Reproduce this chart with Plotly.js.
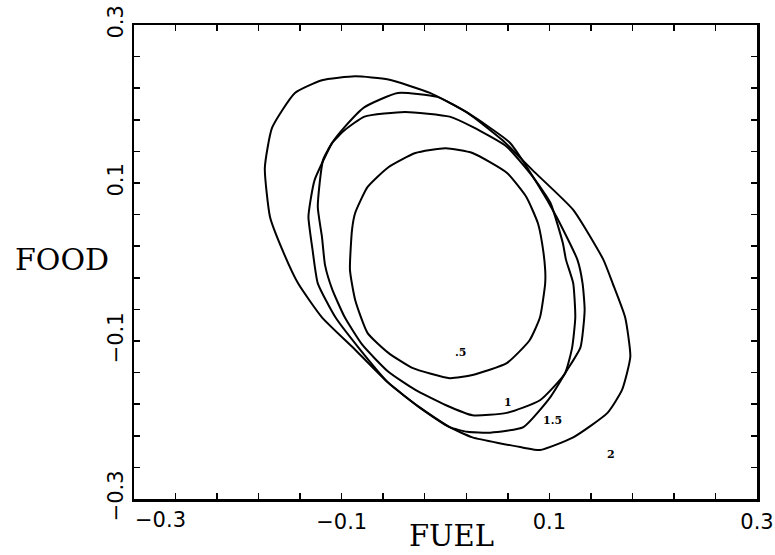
<!DOCTYPE html>
<html>
<head>
<meta charset="utf-8">
<script src="https://cdn.plot.ly/plotly-3.0.1.min.js"></script>
<style>html,body{margin:0;padding:0;background:#fff;}#chart{width:775px;height:555px;}</style>
</head>
<body>
<div id="chart"></div>
<script>
// Contour curves (FUEL on x, FOOD on y)
const c05_x = [0.000,0.026,0.059,0.078,0.089,0.093,0.096,0.096,0.091,0.081,0.059,0.026,0.004,-0.032,-0.055,-0.075,-0.087,-0.092,-0.090,-0.087,-0.075,-0.055,-0.029,0.000];
const c05_y = [0.144,0.138,0.113,0.082,0.049,0.024,-0.010,-0.027,-0.070,-0.099,-0.128,-0.143,-0.147,-0.134,-0.115,-0.090,-0.048,-0.010,0.041,0.062,0.095,0.120,0.138,0.144];

const c1_x = [-0.039,0.004,0.026,0.059,0.084,0.101,0.113,0.116,0.123,0.125,0.122,0.115,0.091,0.059,0.026,0.000,-0.029,-0.055,-0.080,-0.097,-0.109,-0.116,-0.119,-0.123,-0.118,-0.109,-0.097,-0.078,-0.039];
const c1_y = [0.190,0.184,0.171,0.146,0.108,0.075,0.024,0.003,-0.027,-0.070,-0.108,-0.141,-0.175,-0.191,-0.194,-0.181,-0.162,-0.139,-0.105,-0.070,-0.035,-0.004,0.032,0.070,0.129,0.151,0.167,0.184,0.190];

const c15_x = [-0.046,-0.008,0.021,0.062,0.088,0.107,0.127,0.132,0.134,0.130,0.117,0.101,0.075,0.043,0.021,0.004,-0.025,-0.055,-0.084,-0.106,-0.123,-0.128,-0.132,-0.130,-0.126,-0.109,-0.097,-0.078,-0.046];
const c15_y = [0.214,0.209,0.189,0.151,0.100,0.057,0.003,-0.027,-0.061,-0.108,-0.137,-0.171,-0.209,-0.216,-0.215,-0.209,-0.184,-0.153,-0.108,-0.070,-0.027,0.015,0.057,0.078,0.104,0.151,0.171,0.196,0.214];

const c2_x = [-0.087,-0.055,-0.015,0.021,0.055,0.084,0.123,0.152,0.161,0.173,0.178,0.170,0.156,0.123,0.091,0.075,0.026,0.004,-0.025,-0.055,-0.087,-0.119,-0.142,-0.157,-0.169,-0.174,-0.167,-0.145,-0.119,-0.087];
const c2_y = [0.235,0.231,0.214,0.189,0.154,0.116,0.066,0.003,-0.027,-0.070,-0.120,-0.162,-0.191,-0.222,-0.238,-0.235,-0.222,-0.209,-0.184,-0.153,-0.111,-0.070,-0.027,0.015,0.057,0.119,0.170,0.214,0.230,0.235];

// Curve labels
const labelText = ['.5','1','1.5','2'];
const labelX = [0.014,0.060,0.103,0.159];
const labelY = [-0.114,-0.178,-0.200,-0.244];

// Axis ticks
const tickVals = [-0.3,-0.26,-0.22,-0.18,-0.14,-0.1,-0.06,-0.02,0.02,0.06,0.1,0.14,0.18,0.22,0.26,0.3];
const xTickText = ['','','','','','\u22120.1','','','','','0.1','','','','','0.3'];
const yTickText = ['\u22120.3','','','','','\u22120.1','','','','','0.1','','','','','0.3'];
const xFirstLabel = '\u22120.3';

const curves = [[c05_x,c05_y],[c1_x,c1_y],[c15_x,c15_y],[c2_x,c2_y]];
const traces = curves.map(c => ({
  x: c[0], y: c[1], type: 'scatter', mode: 'lines',
  line: {color: '#000', width: 2, shape: 'spline', smoothing: 0.5},
  hoverinfo: 'skip', showlegend: false
}));

const annotations = labelText.map((t, i) => ({
  x: labelX[i], y: labelY[i], xref: 'x', yref: 'y', text: '<b>' + t + '</b>',
  showarrow: false, font: {family: 'DejaVu Serif', size: 11, color: '#000'}
}));
annotations.push({
  x: -0.3, y: -0.044, xref: 'x', yref: 'paper', text: xFirstLabel, showarrow: false,
  xanchor: 'left', yanchor: 'middle', xshift: -1,
  font: {family: 'DejaVu Sans', size: 21, color: '#000'}
});
annotations.push({
  x: 0.51, y: -0.078, xref: 'paper', yref: 'paper', text: 'FUEL', showarrow: false,
  xanchor: 'center', yanchor: 'middle', font: {family: 'DejaVu Serif', size: 29, color: '#000'}
});
annotations.push({
  x: -0.1156, y: 0.506, xref: 'paper', yref: 'paper', text: 'FOOD', showarrow: false,
  xanchor: 'center', yanchor: 'middle', font: {family: 'DejaVu Serif', size: 30, color: '#000'}
});

const axisCommon = {
  range: [-0.3, 0.3], tickmode: 'array', tickvals: tickVals,
  ticks: 'inside', ticklen: 6, tickwidth: 1.5, tickcolor: '#000',
  showline: true, linecolor: '#000', linewidth: 2.5, mirror: 'ticks',
  showgrid: false, zeroline: false,
  tickfont: {family: 'DejaVu Sans', size: 21, color: '#000'}
};

const layout = {
  width: 775, height: 555,
  margin: {l: 134, r: 18, t: 25, b: 56},
  paper_bgcolor: '#fff', plot_bgcolor: '#fff',
  xaxis: Object.assign({}, axisCommon, {ticktext: xTickText, ticklabelstandoff: 2}),
  yaxis: Object.assign({}, axisCommon, {ticktext: yTickText, tickangle: -90}),
  annotations: annotations,
  showlegend: false
};

Plotly.newPlot('chart', traces, layout, {staticPlot: true, displayModeBar: false});
</script>
</body>
</html>
